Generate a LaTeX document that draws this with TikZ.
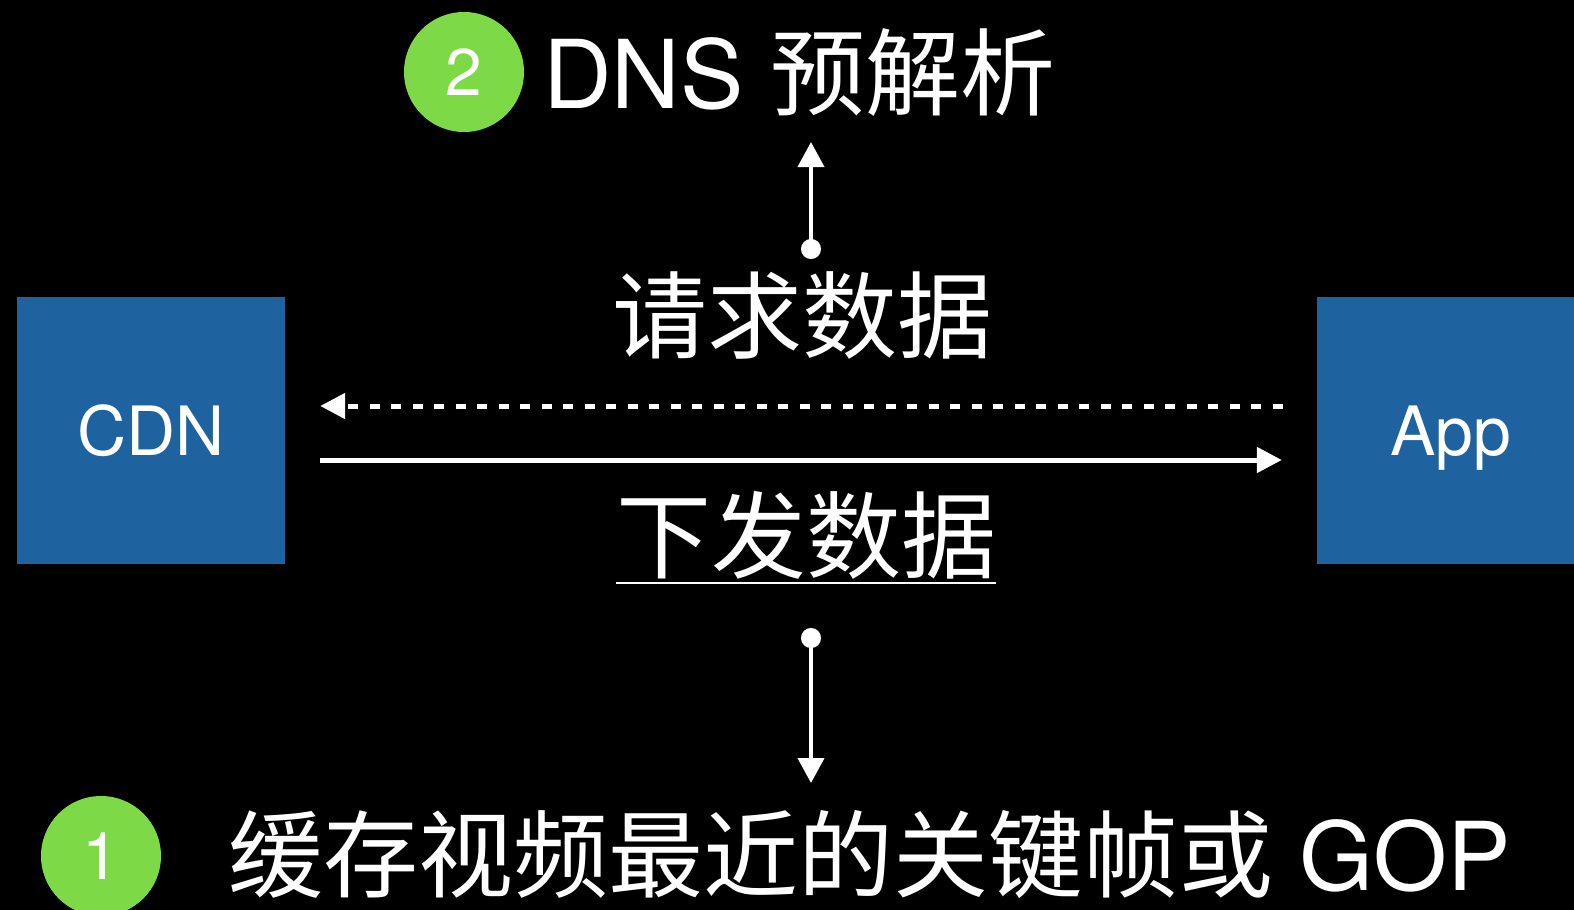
\documentclass[tikz,border=0pt]{standalone}
\usepackage{fontspec}
\setmainfont{TeX Gyre Heros}
\newfontfamily\cjk{Noto Sans CJK SC}
\usetikzlibrary{arrows.meta}
\definecolor{boxblue}{RGB}{31,98,160}
\definecolor{numgreen}{RGB}{126,217,71}
\tikzset{
  box/.style={fill=boxblue, draw=none, minimum width=268pt, minimum height=267pt, inner sep=0pt, text=white, text height=49pt, text depth=0pt, font=\fontsize{68}{80}\selectfont},
  numdot/.style={circle, fill=numgreen, minimum size=120pt, inner sep=0pt, text=white, font=\fontsize{66}{78}\selectfont},
  bigtext/.style={text=white, inner sep=0pt, font=\fontsize{95}{110}\selectfont},
  harrow/.style={white, line width=5pt, -{Triangle[length=25pt,width=25pt]}},
  varrow/.style={white, line width=4pt, {Circle[length=20pt,width=20pt]}-{Triangle[length=25pt,width=26pt]}},
  dashline/.style={dash pattern=on 10pt off 11.5pt}
}
\begin{document}
\begin{tikzpicture}[x=1pt,y=-1pt]
\useasboundingbox[fill=black] (0,0) rectangle (1574,910);
% boxes
\node[box] (CDN) at (151,430.5) {CDN};
\node[box] (App) at (1451,430.5) {App};
% top label
\node[numdot] (n2) at (464,72) {2};
\node[bigtext, anchor=base west] (dns) at (543,108) {DNS {\cjk 预解析}};
% request / send labels
\node[bigtext, anchor=base] (req) at (802,351) {\cjk 请求数据};
\node[bigtext, anchor=base] (send) at (806,571) {\cjk 下发数据};
\draw[white, line width=1.6pt] ([yshift=-12pt]send.base west) -- ([yshift=-12pt]send.base east);
% horizontal arrows
\draw[harrow, dashline] ([yshift=24.5pt,xshift=-34pt]App.west) -- ([yshift=24.5pt,xshift=35pt]CDN.east);
\draw[harrow] ([yshift=-29.5pt,xshift=35pt]CDN.east) -- ([yshift=-29.5pt,xshift=-35pt]App.west);
% vertical arrows
\coordinate (upS) at (811,259);
\coordinate (upE) at (811,142);
\draw[varrow] (upS) -- (upE);
\coordinate (dnS) at (811,628);
\coordinate (dnE) at (811,783);
\draw[varrow] (dnS) -- (dnE);
% bottom label
\node[numdot] (n1) at (101,856) {1};
\node[bigtext, anchor=base west] (gop) at (228,890) {{\cjk 缓存视频最近的关键帧或} GOP};
\end{tikzpicture}
\end{document}
